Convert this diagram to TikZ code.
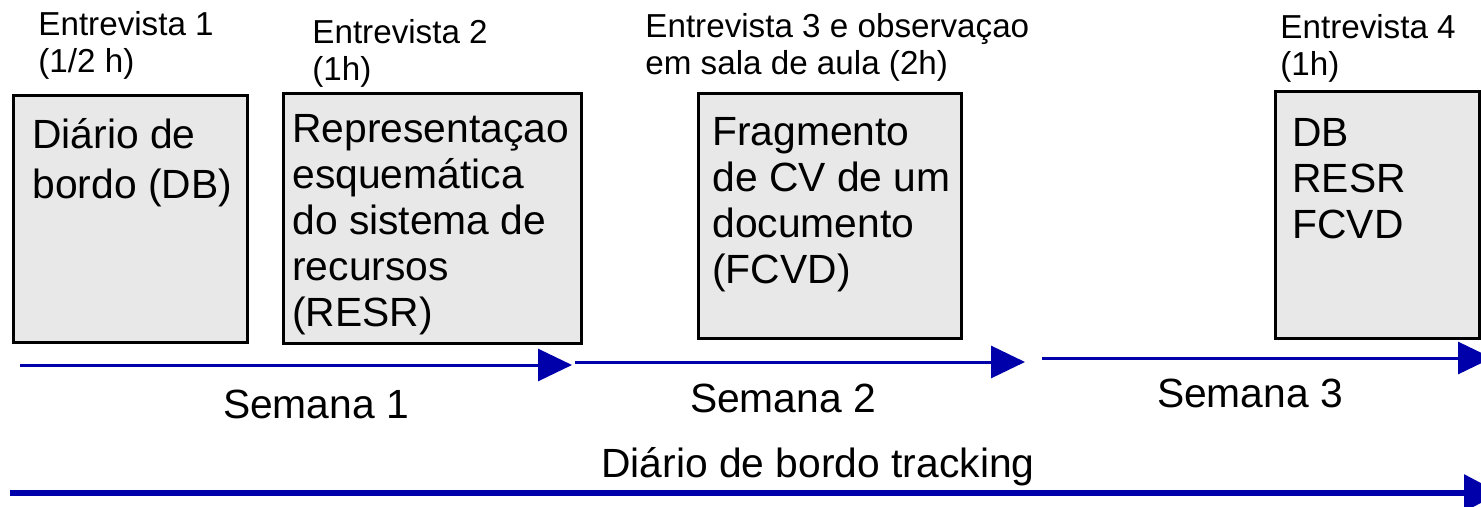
\documentclass[tikz,border=0pt]{standalone}
\usepackage{fontspec}
\setmainfont{Liberation Sans}
\usetikzlibrary{arrows.meta}
\definecolor{arrowblue}{HTML}{0000AA}
\definecolor{boxgray}{HTML}{E8E8E8}
\begin{document}
\begin{tikzpicture}[x=0.5pt,y=-0.5pt,
  boxnode/.style={draw=black,fill=boxgray,line width=1.3pt,anchor=north west,inner sep=0pt},
  boxtext/.style={anchor=base west,align=left,inner sep=0pt,font=\fontsize{20.4pt}{23pt}\selectfont},
  headertext/.style={anchor=base west,align=left,inner sep=0pt,font=\fontsize{16.6pt}{18.5pt}\selectfont},
  weeklabel/.style={anchor=base,inner sep=0pt,font=\fontsize{20.4pt}{23pt}\selectfont},
  weekarrow/.style={draw=arrowblue,line width=1.5pt,-{Triangle[length=17pt,width=16pt]}},
  trackarrow/.style={draw=arrowblue,line width=3pt,-{Triangle[length=18pt,width=18pt]}}
]
\useasboundingbox (0,0) rectangle (1481,507);
\clip (0,0) rectangle (1481,507);

% boxes
\node[boxnode,minimum width=117pt,minimum height=123.5pt] (b1) at (12,94) {};
\node[boxnode,minimum width=149pt,minimum height=125pt] (b2) at (282,92) {};
\node[boxnode,minimum width=131.5pt,minimum height=122.5pt] (b3) at (697,92) {};
\node[boxnode,minimum width=102pt,minimum height=123.5pt] (b4) at (1274,90) {};

% box texts (base anchor = baseline of last line)
\node[boxtext,font=\fontsize{20.4pt}{25pt}\selectfont] (t1) at (32,199) {Diário de\\bordo (DB)};
\node[boxtext] (t2) at (292,327) {Representaçao\\esquemática\\do sistema de\\recursos\\(RESR)};
\node[boxtext] (t3) at (712,284) {Fragmento\\de CV de um\\documento\\(FCVD)};
\node[boxtext] (t4) at (1292,239) {DB\\RESR\\FCVD};

% headers
\node[headertext] (h1) at (38,73) {Entrevista 1\\(1/2 h)};
\node[headertext] (h2) at (312,81) {Entrevista 2\\(1h)};
\node[headertext] (h3) at (645,75) {Entrevista 3 e observaçao\\em sala de aula (2h)};
\node[headertext] (h4) at (1280,76) {Entrevista 4\\(1h)};

% week arrows
\coordinate (a1s) at (20,365);
\coordinate (a1e) at (572,365);
\coordinate (a2s) at (575,362);
\coordinate (a2e) at (1025,362);
\coordinate (a3s) at (1042,358);
\coordinate (a3e) at (1492,358);
\draw[weekarrow] (a1s) -- (a1e);
\draw[weekarrow] (a2s) -- (a2e);
\draw[weekarrow] (a3s) -- (a3e);

\node[weeklabel] (w1) at (316,418) {Semana 1};
\node[weeklabel] (w2) at (783,412) {Semana 2};
\node[weeklabel] (w3) at (1250,407) {Semana 3};

% tracking arrow
\coordinate (ts) at (10,493);
\coordinate (te) at (1500,493);
\draw[trackarrow] (ts) -- (te);
\node[weeklabel] (tr) at (818,477) {Diário de bordo tracking};
\end{tikzpicture}
\end{document}
